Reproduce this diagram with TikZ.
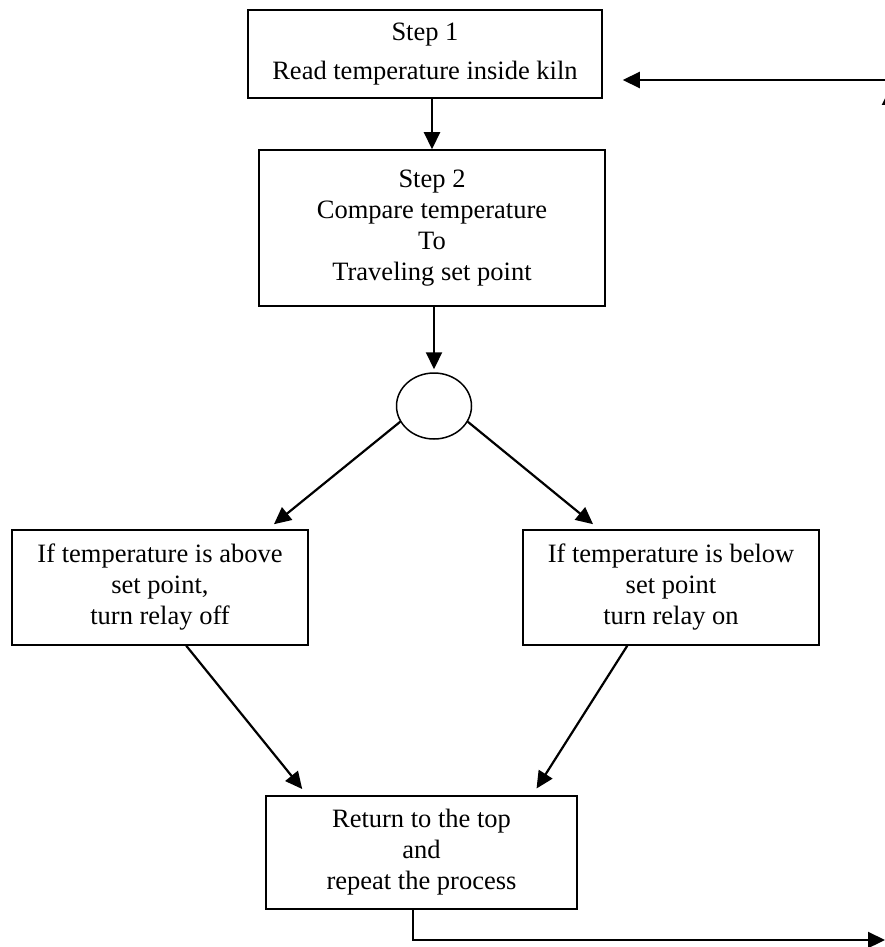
\documentclass[tikz,border=0pt]{standalone}
\usepackage{fontspec}
\setmainfont{Liberation Serif}
\usetikzlibrary{arrows.meta,shapes.geometric,calc}

\begin{document}
\begin{tikzpicture}[x=1pt,y=-1pt,
		box/.style={draw,line width=1.5pt,align=center,inner sep=0pt,font=\fontsize{26.5}{31}\selectfont},
		arr/.style={line width=2.2pt,-{Triangle[length=17pt,width=16pt]}}]
			\useasboundingbox (0,0) rectangle (885,947);
			\clip (0,0) rectangle (885,947);

			\node[box,minimum width=354pt,minimum height=88pt] (step1) at (425,54) {Step 1\\[8pt]Read temperature inside kiln};
			\node[box,minimum width=346pt,minimum height=156pt] (step2) at (432,228) {Step 2\\Compare temperature\\To\\Traveling set point};
			\node[draw,ellipse,line width=1.5pt,minimum width=75pt,minimum height=66pt] (fork) at (434,406) {};
			\node[box,minimum width=296pt,minimum height=115pt] (above) at (160,587.5) {If temperature is above\\set point,\\turn relay off};
			\node[box,minimum width=296pt,minimum height=115pt] (below) at (671,587.5) {If temperature is below\\set point\\turn relay on};
			\node[box,minimum width=311pt,minimum height=113pt] (back) at (421.5,852.5) {Return to the top\\and\\repeat the process};

			\coordinate (corner) at (890,940);
			\coordinate (turn) at (890,80);

			\draw[arr] (step1.south -| step2.north) -- (step2.north);
			\draw[arr,shorten >=3pt] (step2.south -| fork.north) -- (fork.north);
			\draw[arr,shorten >=8pt] (fork.205) -- ($(above.north east)+(-41,0)$);
			\draw[arr,shorten >=8pt] (fork.335) -- ($(below.north west)+(77,0)$);
			\draw[arr,shorten >=8pt] ($(above.south west)+(175,0)$) -- ($(back.north west)+(42,0)$);
			\draw[arr,shorten >=8pt] ($(below.south west)+(105,0)$) -- ($(back.north west)+(267,0)$);
			\draw[arr,shorten >=5pt] ($(back.south west)+(148,0)$) |- (corner);
			\draw[arr,shorten >=8pt] (corner) -- (turn);
			\draw[arr,shorten >=20pt] (turn) -- (turn -| step1.east);
		\end{tikzpicture}
\end{document}
